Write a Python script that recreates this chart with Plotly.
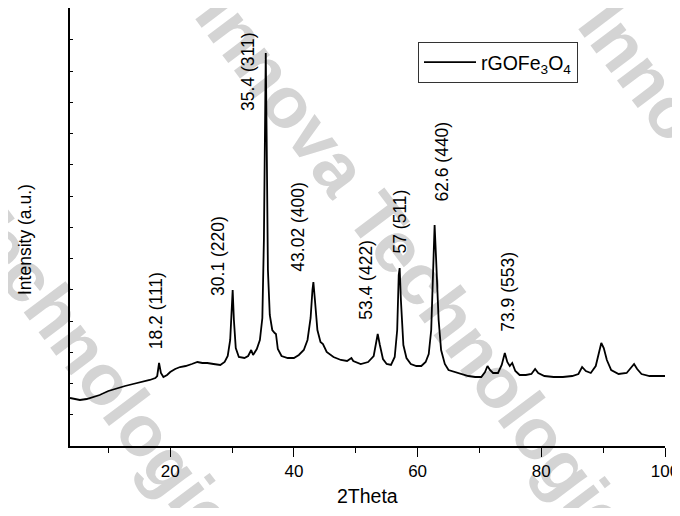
import plotly.graph_objects as go

# ---- data ----
two_theta = [3.8, 4.5, 5.4, 6.5, 7.5, 8.6, 10.0, 11.4, 12.7, 14.0, 15.4, 16.7, 17.6, 17.9, 18.2, 18.5,
             18.9, 19.5, 20.0, 20.8, 21.6, 22.5, 23.5, 24.4, 25.2, 26.0, 27.0, 28.1, 28.8, 29.3, 29.7,
             29.95, 30.1, 30.3, 30.6, 31.1, 32.0, 32.6, 33.1, 33.4, 34.0, 34.5, 34.9, 35.15, 35.3, 35.45,
             35.6, 35.8, 36.1, 36.5, 36.9, 37.1, 37.4, 38.0, 39.0, 40.0, 40.8, 41.6, 42.2, 42.7, 43.0,
             43.15, 43.4, 43.8, 44.3, 44.7, 45.3, 46.4, 47.6, 48.6, 49.3, 49.6, 50.8, 52.0, 52.9, 53.3,
             53.55, 53.9, 54.4, 55.0, 55.7, 56.3, 56.7, 56.95, 57.1, 57.3, 57.7, 58.2, 58.9, 59.8, 60.6,
             61.3, 61.8, 62.2, 62.5, 62.75, 63.0, 63.4, 63.8, 64.4, 65.0, 66.2, 67.0, 68.2, 69.3, 70.3,
             70.9, 71.3, 71.7, 72.2, 73.0, 73.6, 74.1, 74.5, 74.9, 75.3, 75.8, 76.5, 77.5, 78.4, 79.0,
             79.5, 80.5, 82.0, 83.5, 85.0, 86.0, 86.6, 87.2, 88.0, 88.8, 89.3, 89.7, 90.1, 90.6, 91.3,
             92.5, 93.8, 94.6, 95.0, 95.5, 96.2, 97.5, 99.0, 100.0]
intensity = [1536, 1504, 1472, 1504, 1568, 1632, 1760, 1856, 1920, 1984, 2048, 2112, 2176, 2240, 2656, 2336,
             2208, 2272, 2368, 2464, 2528, 2560, 2624, 2688, 2656, 2656, 2624, 2592, 2688, 2880, 3392,
             4352, 4992, 4032, 3136, 2848, 2816, 2880, 3072, 2912, 3104, 3392, 4096, 6592, 10432, 12576,
             9792, 5632, 4192, 3712, 3616, 3584, 3104, 2880, 2816, 2816, 2912, 3072, 3392, 4096, 4992,
             5248, 4672, 3712, 3328, 3264, 3008, 2848, 2752, 2720, 2816, 2720, 2624, 2688, 2880, 3392,
             3584, 3232, 2784, 2624, 2592, 2848, 3712, 5472, 5696, 4672, 3232, 2816, 2624, 2560, 2560,
             2688, 2944, 3712, 5632, 7072, 5952, 4032, 3072, 2624, 2432, 2368, 2304, 2240, 2208, 2208,
             2368, 2560, 2432, 2336, 2336, 2592, 2976, 2688, 2560, 2656, 2400, 2272, 2272, 2304, 2464,
             2336, 2240, 2208, 2208, 2240, 2304, 2528, 2400, 2336, 2560, 3008, 3296, 3136, 2752, 2432,
             2304, 2336, 2528, 2624, 2464, 2304, 2240, 2240, 2240]
series_name = "rGOFe<sub>3</sub>O<sub>4</sub>"

label_text = ["18.2 (111)", "30.1 (220)", "35.4 (311)", "43.02 (400)",
              "53.4 (422)", "57 (511)", "62.6 (440)", "73.9 (553)"]
label_x = [17.75, 27.72, 32.50, 40.61, 51.63, 57.23, 63.88, 74.58]
label_y = [4320, 6080, 11952, 7008, 5312, 7200, 9088, 4928]

x_ticks = [20, 40, 60, 80, 100]
watermark_text = "Innova Technologies"

FONT = "Arial, 'Liberation Sans', sans-serif"
OFF = 8                      # page body margin
W, H = 672, 500
L, R, T, B = 62, 15, 0, 62
PW, PH = W - L - R, H - T - B

fig = go.Figure()
fig.add_trace(go.Scatter(x=two_theta, y=intensity, mode="lines", name=series_name,
                         line=dict(color="black", width=1.8), showlegend=True))

def px2paper(px, py):
    # page pixel -> paper coordinates
    return (px - OFF - L) / PW, (T + PH - (py - OFF)) / PH

# watermark (light grey diagonal text) below the data
d = (0.602, 0.799)
for cx, cy in [(432, 280), (37, 277), (815, 290)]:
    x0, y0 = px2paper(cx - 50 * d[0], cy - 50 * d[1])
    x1, y1 = px2paper(cx + 50 * d[0], cy + 50 * d[1])
    fig.add_shape(type="line", xref="paper", yref="paper", x0=x0, y0=y0, x1=x1, y1=y1,
                  layer="below", line=dict(width=0, color="rgba(0,0,0,0)"),
                  label=dict(text=watermark_text, textposition="middle", yanchor="middle",
                             padding=0, font=dict(family=FONT, size=72, color="#d4d4d4",
                                                  weight="bold")))

for t, lx, ly in zip(label_text, label_x, label_y):
    fig.add_annotation(x=lx, y=ly, xref="x", yref="y", text=t, showarrow=False,
                       textangle=-90, xanchor="center", yanchor="middle",
                       font=dict(family=FONT, size=17.5, color="black"))

tx, ty = px2paper(367, 496)
fig.add_annotation(x=tx, y=ty, xref="paper", yref="paper", text="2Theta", showarrow=False,
                   xanchor="center", yanchor="middle", font=dict(family=FONT, size=19.5, color="black"))
ix, iy = px2paper(25, 240)
fig.add_annotation(x=ix, y=iy, xref="paper", yref="paper", text="Intensity (a.u.)", showarrow=False,
                   textangle=-90, xanchor="center", yanchor="middle",
                   font=dict(family=FONT, size=17.5, color="black"))

lgx, lgy = px2paper(418, 42)
fig.update_layout(
    width=W, height=H, margin=dict(l=L, r=R, t=T, b=B),
    paper_bgcolor="white", plot_bgcolor="rgba(0,0,0,0)",
    font=dict(family=FONT, size=17, color="black"),
    legend=dict(x=lgx, y=lgy, xanchor="left", yanchor="top", bgcolor="white",
                bordercolor="#333", borderwidth=1, font=dict(family=FONT, size=19.5),
                itemwidth=52, tracegroupgap=0),
    xaxis=dict(range=[3.8, 100], tickmode="array", tickvals=x_ticks, ticktext=[str(v) for v in x_ticks],
               ticks="outside", ticklen=9, tickwidth=1.3, tickcolor="black",
               minor=dict(ticks="outside", dtick=10, tick0=0, ticklen=5, tickwidth=1.3, tickcolor="black"),
               showline=True, linecolor="black", linewidth=1.5, showgrid=False, zeroline=False,
               tickfont=dict(family=FONT, size=17)),
    yaxis=dict(range=[0, 14016], dtick=1000, tick0=0, ticks="inside", ticklen=3, tickwidth=1,
               tickcolor="black", showticklabels=False,
               showline=True, linecolor="black", linewidth=1.5, showgrid=False, zeroline=False),
)

fig.write_html("out.html")
